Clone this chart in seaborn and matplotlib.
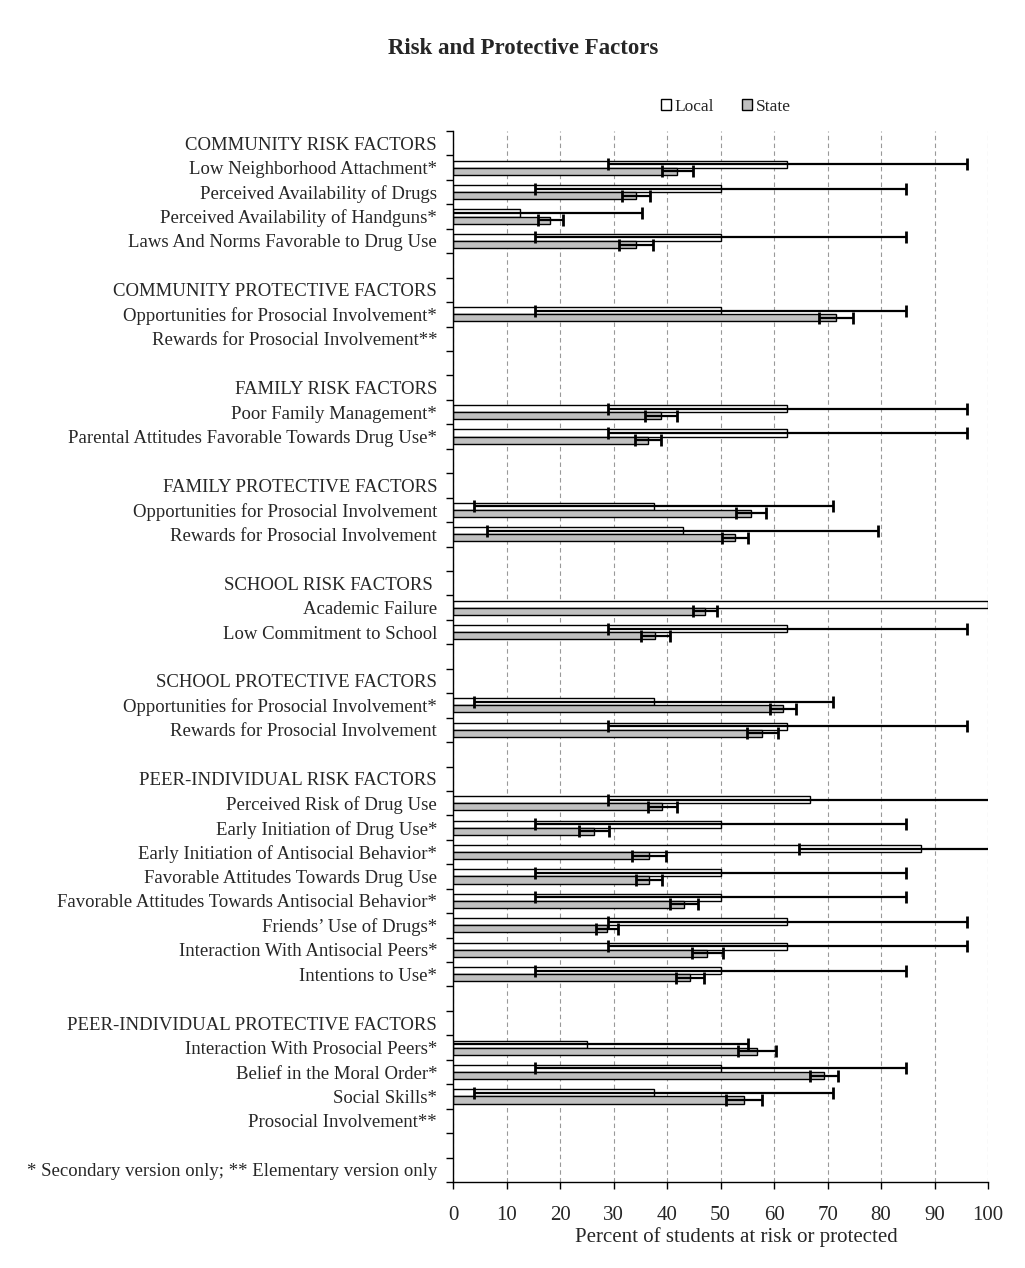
import numpy as np
import pandas as pd
import matplotlib
matplotlib.use("Agg")
import matplotlib.pyplot as plt
import seaborn as sns

# row labels, top to bottom (headers and blank spacer rows included)
labels = [
    "COMMUNITY RISK FACTORS",
    "Low Neighborhood Attachment*",
    "Perceived Availability of Drugs",
    "Perceived Availability of Handguns*",
    "Laws And Norms Favorable to Drug Use",
    "",
    "COMMUNITY PROTECTIVE FACTORS",
    "Opportunities for Prosocial Involvement*",
    "Rewards for Prosocial Involvement**",
    "",
    "FAMILY RISK FACTORS",
    "Poor Family Management*",
    "Parental Attitudes Favorable Towards Drug Use*",
    "",
    "FAMILY PROTECTIVE FACTORS",
    "Opportunities for Prosocial Involvement",
    "Rewards for Prosocial Involvement",
    "",
    "SCHOOL RISK FACTORS ",
    "Academic Failure",
    "Low Commitment to School",
    "",
    "SCHOOL PROTECTIVE FACTORS",
    "Opportunities for Prosocial Involvement*",
    "Rewards for Prosocial Involvement",
    "",
    "PEER-INDIVIDUAL RISK FACTORS",
    "Perceived Risk of Drug Use",
    "Early Initiation of Drug Use*",
    "Early Initiation of Antisocial Behavior*",
    "Favorable Attitudes Towards Drug Use",
    "Favorable Attitudes Towards Antisocial Behavior*",
    "Friends\u2019 Use of Drugs*",
    "Interaction With Antisocial Peers*",
    "Intentions to Use*",
    "",
    "PEER-INDIVIDUAL PROTECTIVE FACTORS",
    "Interaction With Prosocial Peers*",
    "Belief in the Moral Order*",
    "Social Skills*",
    "Prosocial Involvement**",
    "",
    "* Secondary version only; ** Elementary version only",
]

N = None
local = [N, 62.5, 50, 12.5, 50, N, N, 50, N, N, N, 62.5, 62.5, N, N, 37.5, 42.9, N,
         N, 100, 62.5, N, N, 37.5, 62.5, N, N, 66.7, 50, 87.5, 50, 50, 62.5, 62.5, 50,
         N, N, 25, 50, 37.5, N, N, N]
local_err = [N, 33.6, 34.7, 22.9, 34.7, N, N, 34.7, N, N, N, 33.6, 33.6, N, N, 33.6, 36.6, N,
             N, 0, 33.6, N, N, 33.6, 33.6, N, N, 37.8, 34.7, 22.9, 34.7, 34.7, 33.6, 33.6, 34.7,
             N, N, 30.1, 34.7, 33.6, N, N, N]
state = [N, 41.9, 34.2, 18.2, 34.2, N, N, 71.6, N, N, N, 38.9, 36.4, N, N, 55.7, 52.7, N,
         N, 47.1, 37.8, N, N, 61.7, 57.8, N, N, 39.1, 26.4, 36.6, 36.6, 43.2, 28.8, 47.5, 44.3,
         N, N, 56.8, 69.4, 54.4, N, N, N]
state_err = [N, 2.9, 2.7, 2.3, 3.1, N, N, 3.2, N, N, N, 3.0, 2.4, N, N, 2.8, 2.5, N,
             N, 2.2, 2.7, N, N, 2.4, 2.9, N, N, 2.7, 2.8, 3.2, 2.4, 2.6, 2.0, 2.9, 2.6,
             N, N, 3.5, 2.6, 3.3, N, N, N]

rows = []
for i in range(len(labels)):
    if local[i] is not None:
        rows.append({"row": i, "series": "Local", "value": local[i], "err": local_err[i]})
        rows.append({"row": i, "series": "State", "value": state[i], "err": state_err[i]})
df = pd.DataFrame(rows)

sns.set_style("white")
plt.rcParams["font.family"] = ["Liberation Serif", "DejaVu Serif"]

fig = plt.figure(figsize=(10.25, 12.68), dpi=100)
ax = fig.add_axes([0.442, 0.0678, 0.522, 0.8289])

sns.barplot(data=df, y="row", x="value", hue="series", orient="h",
            order=list(range(len(labels))), hue_order=["Local", "State"],
            palette={"Local": "white", "State": "#c0c0c0"},
            edgecolor="black", linewidth=1.0, width=0.58, errorbar=None, ax=ax)

# error bars placed at the centre of each drawn bar
errs = {(r.series, r.row): r.err for r in df.itertuples()}
for cont, name in zip(ax.containers, ["Local", "State"]):
    for bar in cont:
        yc = bar.get_y() + bar.get_height() / 2
        e = errs.get((name, int(round(yc))), 0)
        if e:
            ax.errorbar(bar.get_width(), yc, xerr=e, fmt="none", ecolor="black",
                        elinewidth=1.6, capsize=4, capthick=2, zorder=3)

ax.set_xlim(0, 100)
ax.set_ylim(len(labels) - 0.5, -0.5)
ax.set_xticks(np.arange(0, 101, 10))
ax.tick_params(axis="x", labelsize=15, length=5, width=1, direction="out",
               bottom=True, color="black", pad=12)
ax.xaxis.grid(True, linestyle=(0, (4, 3)), color="#999999", linewidth=0.8)
ax.set_axisbelow(True)

ax.set_yticks(np.arange(-0.5, len(labels), 1.0))
ax.set_yticklabels([])
ax.set_yticks(np.arange(len(labels)), minor=True)
ax.set_yticklabels(labels, minor=True, fontsize=13.5)
ax.tick_params(axis="y", which="major", length=5, width=1, left=True, color="black")
ax.tick_params(axis="y", which="minor", length=0, pad=11.5)

for s in ["top", "right"]:
    ax.spines[s].set_visible(False)
for s in ["left", "bottom"]:
    ax.spines[s].set_color("black")
    ax.spines[s].set_linewidth(1.0)

ax.set_ylabel("")
ax.set_xlabel("Percent of students at risk or protected", fontsize=15, labelpad=2)
ax.xaxis.label.set_x(0.53)

handles, lbls = ax.get_legend_handles_labels()
ax.legend(handles, lbls, loc="center", bbox_to_anchor=(0.51, 1.023), ncol=2,
          frameon=False, fontsize=12.5, handlelength=0.6, handleheight=0.6,
          handletextpad=0.2, columnspacing=1.6)

fig.suptitle("Risk and Protective Factors", fontsize=16.5, fontweight="bold", y=0.97, x=0.51)

fig.savefig("out.png", dpi=100)
